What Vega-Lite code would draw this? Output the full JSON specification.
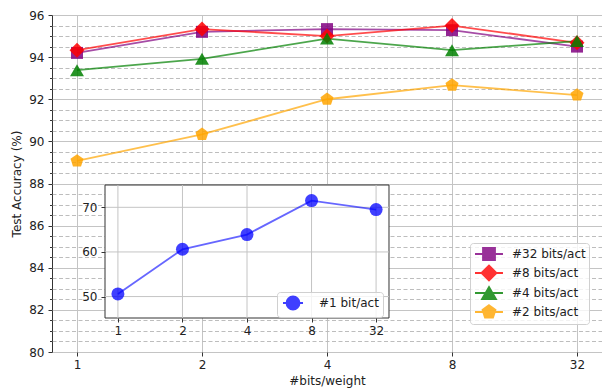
{
  "$schema": "https://vega.github.io/schema/vega-lite/v6.json",
  "width": 550,
  "height": 337,
  "autosize": "none",
  "padding": {"left": 52, "top": 15, "right": 0, "bottom": 38},
  "config": {
    "font": "DejaVu Sans",
    "view": {"stroke": "#333333", "strokeWidth": 1},
    "axis": {
      "labelFont": "DejaVu Sans",
      "labelFontSize": 12,
      "labelColor": "#222222",
      "titleFont": "DejaVu Sans",
      "titleFontSize": 12,
      "titleFontWeight": "normal",
      "titleColor": "#222222",
      "tickColor": "#333333",
      "domain": false
    },
    "legend": {
      "labelFont": "DejaVu Sans",
      "labelFontSize": 12,
      "labelColor": "#222222"
    }
  },
  "layer": [
    {
      "data": {
        "values": [
          {"bits": 1, "acc": 94.2, "series": "#32 bits/act"},
          {"bits": 2, "acc": 95.2, "series": "#32 bits/act"},
          {"bits": 4, "acc": 95.33, "series": "#32 bits/act"},
          {"bits": 8, "acc": 95.28, "series": "#32 bits/act"},
          {"bits": 32, "acc": 94.5, "series": "#32 bits/act"},
          {"bits": 1, "acc": 94.33, "series": "#8 bits/act"},
          {"bits": 2, "acc": 95.33, "series": "#8 bits/act"},
          {"bits": 4, "acc": 95.0, "series": "#8 bits/act"},
          {"bits": 8, "acc": 95.5, "series": "#8 bits/act"},
          {"bits": 32, "acc": 94.68, "series": "#8 bits/act"},
          {"bits": 1, "acc": 93.38, "series": "#4 bits/act"},
          {"bits": 2, "acc": 93.92, "series": "#4 bits/act"},
          {"bits": 4, "acc": 94.88, "series": "#4 bits/act"},
          {"bits": 8, "acc": 94.33, "series": "#4 bits/act"},
          {"bits": 32, "acc": 94.76, "series": "#4 bits/act"},
          {"bits": 1, "acc": 89.07, "series": "#2 bits/act"},
          {"bits": 2, "acc": 90.33, "series": "#2 bits/act"},
          {"bits": 4, "acc": 92.0, "series": "#2 bits/act"},
          {"bits": 8, "acc": 92.67, "series": "#2 bits/act"},
          {"bits": 32, "acc": 92.2, "series": "#2 bits/act"}
        ]
      },
      "encoding": {
        "x": {
          "field": "bits",
          "type": "ordinal",
          "scale": {"type": "point", "padding": 0.2},
          "axis": {
            "title": "#bits/weight",
            "labelAngle": 0,
            "grid": true,
            "gridColor": "#c4c4c4",
            "gridWidth": 1,
            "tickSize": 4,
            "labelPadding": 3,
            "titlePadding": 5
          }
        }
      },
      "layer": [
        {
          "mark": {"type": "line", "strokeWidth": 1.8, "opacity": 0.7},
          "encoding": {
            "y": {
              "field": "acc",
              "type": "quantitative",
              "scale": {"domain": [80, 96], "nice": false, "zero": false},
              "axis": {
                "title": "Test Accuracy (%)",
                "values": [80, 82, 84, 86, 88, 90, 92, 94, 96],
                "grid": true,
                "gridColor": "#c4c4c4",
                "gridWidth": 1,
                "tickSize": 4,
                "labelPadding": 4,
                "titlePadding": 5
              }
            },
            "stroke": {
              "field": "series",
              "type": "nominal",
              "scale": {
                "domain": ["#2 bits/act", "#4 bits/act", "#8 bits/act", "#32 bits/act"],
                "range": ["#ffa500", "#008000", "#ff0000", "#800080"]
              },
              "legend": null
            }
          }
        },
        {
          "mark": {"type": "point", "filled": true, "size": 225, "opacity": 0.85},
          "encoding": {
            "y": {
              "field": "acc",
              "type": "quantitative",
              "axis": {
                "orient": "left",
                "title": null,
                "labels": false,
                "values": [80.5, 81, 81.5, 82.5, 83, 83.5, 84.5, 85, 85.5, 86.5, 87, 87.5, 88.5, 89, 89.5, 90.5, 91, 91.5, 92.5, 93, 93.5, 94.5, 95, 95.5],
                "grid": true,
                "gridColor": "#bdbdbd",
                "gridDash": [4, 2.5],
                "gridWidth": 1,
                "tickSize": 2.5
              }
            },
            "color": {
              "field": "series",
              "type": "nominal",
              "scale": {
                "domain": ["#8 bits/act", "#32 bits/act", "#4 bits/act", "#2 bits/act"],
                "range": ["#ff0000", "#800080", "#008000", "#ffa500"]
              },
              "legend": null
            },
            "shape": {
              "field": "series",
              "type": "nominal",
              "scale": {
                "domain": ["#8 bits/act", "#32 bits/act", "#4 bits/act", "#2 bits/act"],
                "range": [
                  "M-1,0L0,-1L1,0L0,1Z",
                  "M-0.8,-0.8H0.8V0.8H-0.8Z",
                  "M0,-0.8L0.93,0.8L-0.93,0.8Z",
                  "M0,-0.91L0.866,-0.281L0.535,0.736L-0.535,0.736L-0.866,-0.281Z"
                ]
              },
              "legend": null
            }
          }
        },
        {
          "mark": {"type": "point", "filled": true, "size": 225, "opacity": 0},
          "encoding": {
            "y": {"field": "acc", "type": "quantitative", "axis": null},
            "color": {
              "field": "series",
              "type": "nominal",
              "scale": {
                "domain": ["#32 bits/act", "#8 bits/act", "#4 bits/act", "#2 bits/act"],
                "range": ["#800080", "#ff0000", "#008000", "#ffa500"]
              },
              "legend": {
                "title": null,
                "orient": "none",
                "legendX": 418,
                "legendY": 228,
                "padding": 2.5,
                "rowPadding": -4.1,
                "labelOffset": 22.5,
                "symbolSize": 225,
                "symbolStrokeWidth": 1.8,
                "symbolOpacity": 0.8,
                "fillColor": "rgba(255,255,255,0.8)",
                "strokeColor": "#d0d0d0",
                "cornerRadius": 3
              }
            },
            "stroke": {
              "field": "series",
              "type": "nominal",
              "scale": {
                "domain": ["#32 bits/act", "#8 bits/act", "#4 bits/act", "#2 bits/act"],
                "range": ["#800080", "#ff0000", "#008000", "#ffa500"]
              },
              "legend": {
                "title": null,
                "orient": "none",
                "legendX": 418,
                "legendY": 228,
                "padding": 2.5,
                "rowPadding": -4.1,
                "labelOffset": 22.5,
                "symbolSize": 225,
                "symbolStrokeWidth": 1.8,
                "symbolOpacity": 0.8,
                "fillColor": "rgba(255,255,255,0.8)",
                "strokeColor": "#d0d0d0",
                "cornerRadius": 3
              }
            },
            "shape": {
              "field": "series",
              "type": "nominal",
              "scale": {
                "domain": ["#32 bits/act", "#8 bits/act", "#4 bits/act", "#2 bits/act"],
                "range": [
                  "M-0.8,0H2.93M0.267,-0.8H1.867V0.8H0.267Z",
                  "M-0.8,0H2.93M0.067,0L1.067,-1L2.067,0L1.067,1Z",
                  "M-0.8,0H2.93M1.067,-0.8L2.0,0.8L0.133,0.8Z",
                  "M-0.8,0H2.93M1.067,-0.91L1.933,-0.281L1.602,0.736L0.532,0.736L0.201,-0.281Z"
                ]
              },
              "legend": {
                "title": null,
                "orient": "none",
                "legendX": 418,
                "legendY": 228,
                "padding": 2.5,
                "rowPadding": -4.1,
                "labelOffset": 22.5,
                "symbolSize": 225,
                "symbolStrokeWidth": 1.8,
                "symbolOpacity": 0.8,
                "fillColor": "rgba(255,255,255,0.8)",
                "strokeColor": "#d0d0d0",
                "cornerRadius": 3
              }
            }
          }
        }
      ],
      "resolve": {
        "axis": {"y": "independent"},
        "scale": {"color": "independent", "shape": "independent", "stroke": "independent"}
      }
    },
    {
      "layer": [
        {
          "data": {"values": [{"panel": "inset"}]},
          "mark": {"type": "rect", "fill": "white", "stroke": "#333333", "strokeWidth": 1, "xOffset": -12.9, "x2Offset": 12.9},
          "encoding": {
            "x": {"datum": 1, "type": "ordinal"},
            "x2": {"datum": 32},
            "y": {"datum": 45.2, "type": "quantitative"},
            "y2": {"datum": 75.0}
          }
        },
        {
          "data": {"values": [{"tick": 50}, {"tick": 60}, {"tick": 70}]},
          "mark": {"type": "rule", "color": "#c4c4c4", "strokeWidth": 1, "xOffset": -12.9, "x2Offset": 12.9},
          "encoding": {
            "x": {"datum": 1, "type": "ordinal"},
            "x2": {"datum": 32},
            "y": {"field": "tick", "type": "quantitative"}
          }
        },
        {
          "data": {
            "values": [
              {"bits": 1, "acc": 50.6, "series": "#1 bit/act"},
              {"bits": 2, "acc": 60.6, "series": "#1 bit/act"},
              {"bits": 4, "acc": 63.9, "series": "#1 bit/act"},
              {"bits": 8, "acc": 71.5, "series": "#1 bit/act"},
              {"bits": 32, "acc": 69.5, "series": "#1 bit/act"}
            ]
          },
          "layer": [
            {
              "mark": {"type": "rule", "color": "#c4c4c4", "strokeWidth": 1},
              "encoding": {
                "x": {"field": "bits", "type": "ordinal"},
                "y": {"datum": 45.2, "type": "quantitative"},
                "y2": {"datum": 75.0}
              }
            },
            {
              "mark": {"type": "line", "color": "#0000ff", "strokeWidth": 1.8, "opacity": 0.6},
              "encoding": {
                "x": {"field": "bits", "type": "ordinal"},
                "y": {"field": "acc", "type": "quantitative"}
              }
            },
            {
              "mark": {"type": "point", "filled": true, "size": 169, "opacity": 0.75},
              "encoding": {
                "x": {"field": "bits", "type": "ordinal"},
                "y": {"field": "acc", "type": "quantitative"},
                "color": {
                  "field": "series",
                  "type": "nominal",
                  "scale": {"domain": ["#1 bit/act"], "range": ["#0000ff"]},
                  "legend": {
                    "title": null,
                    "orient": "none",
                    "legendX": 225,
                    "legendY": 277,
                    "padding": 3.5,
                    "labelOffset": 23.5,
                    "symbolSize": 169,
                    "symbolType": "M-0.77,0H2.31M1.77,0A1,1,0,1,1,-0.23,0A1,1,0,1,1,1.77,0Z",
                    "symbolStrokeColor": "#0000ff",
                    "symbolStrokeWidth": 1.8,
                    "symbolOpacity": 0.75,
                    "fillColor": "rgba(255,255,255,0.8)",
                    "strokeColor": "#d0d0d0",
                    "cornerRadius": 3
                  }
                }
              }
            }
          ]
        }
      ],
      "encoding": {
        "x": {
          "type": "ordinal",
          "scale": {"type": "point", "padding": 0.2, "range": [53, 337]},
          "axis": {
            "orient": "bottom",
            "offset": -34,
            "title": null,
            "labelAngle": 0,
            "grid": false,
            "tickSize": 4,
            "labelPadding": 3,
            "zindex": 1
          }
        },
        "y": {
          "type": "quantitative",
          "scale": {"domain": [45.2, 75.0], "nice": false, "zero": false, "range": [303, 170]},
          "axis": {
            "orient": "left",
            "offset": -53,
            "title": null,
            "values": [50, 60, 70],
            "grid": false,
            "tickSize": 4,
            "labelPadding": 4,
            "zindex": 1
          }
        }
      }
    }
  ],
  "resolve": {
    "scale": {"x": "independent", "y": "independent", "color": "independent", "shape": "independent", "stroke": "independent"},
    "legend": {"color": "independent"}
  }
}
